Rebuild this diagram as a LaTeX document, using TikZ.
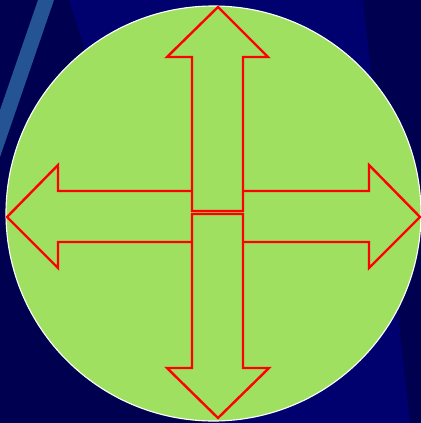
\documentclass[tikz,border=0pt]{standalone}
\usetikzlibrary{calc}
\definecolor{bgdark}{HTML}{000050}
\definecolor{bglight}{HTML}{00006E}
\definecolor{bgstripe}{HTML}{245494}
\definecolor{disccol}{HTML}{A0E060}
\definecolor{arrowred}{HTML}{FF0000}
\tikzset{
  bgfill/.style={fill=bgdark, draw=none},
  glowpanel/.style={fill=bglight, draw=none},
  stripeband/.style={fill=bgstripe, draw=none},
  discstyle/.style={fill=disccol, draw=white, line width=1.6pt},
  outlinearrow/.style={draw=arrowred, fill=disccol, line width=3.4pt,
    line join=miter},
}

\begin{document}
\begin{tikzpicture}[x=0.05cm, y=-0.05cm]

% Background.
\path[bgfill] (0, 0) rectangle (421, 423);
\useasboundingbox (0, 0) rectangle (421, 423);
\path[glowpanel] (69, 0) -- (363, 0) -- (410, 423) -- (204, 423) -- cycle;
\path[stripeband] (38, 0) -- (54, 0) -- (0, 157) -- (0, 110) -- cycle;

% The disc.
\coordinate (centre) at (213.5, 213.5);
\draw[discstyle] (centre) circle[radius=207.5];

% Left and right.
\draw[outlinearrow] (192, 191) -- (58, 191) -- (58, 165) -- (7, 217)
  -- (58, 268) -- (58, 242) -- (192, 242);
\draw[outlinearrow] (243, 191) -- (369, 191) -- (369, 165) -- (420, 217)
  -- (369, 268) -- (369, 242) -- (243, 242);

% Up and down.
\draw[outlinearrow] (192, 211) -- (192, 57) -- (167, 57) -- (218, 7)
  -- (268, 57) -- (243, 57) -- (243, 211) -- cycle;
\draw[outlinearrow] (192, 214) -- (192, 368) -- (167, 368) -- (218, 418)
  -- (269, 368) -- (243, 368) -- (243, 214) -- cycle;

\end{tikzpicture}
\end{document}
